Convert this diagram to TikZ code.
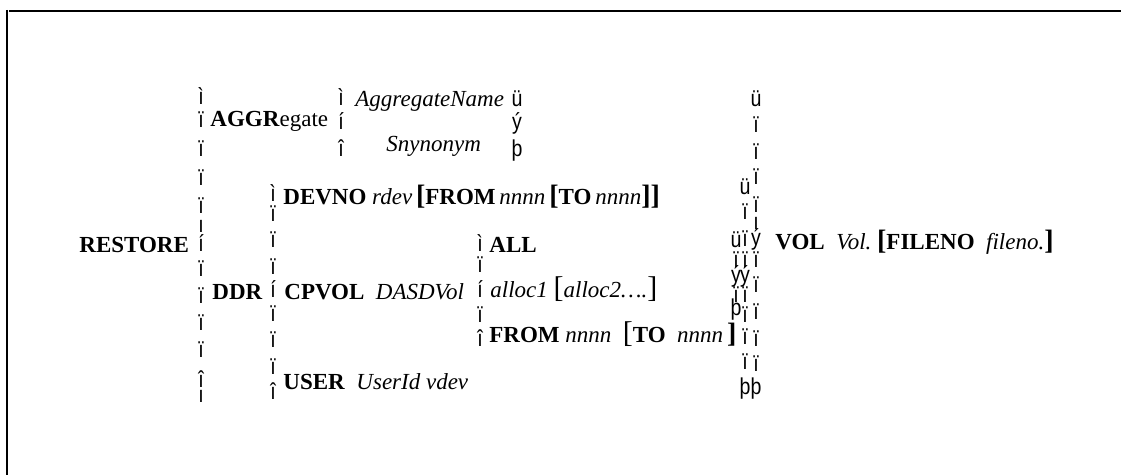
\documentclass[tikz,border=0pt]{standalone}
\usepackage{fontspec}
\setmainfont{Liberation Serif}
\newfontfamily\bracefont{Liberation Sans}
\newcommand{\sqbr}[1]{{\fontsize{14}{14}\selectfont\bfseries #1}}
\newcommand{\thinbr}[1]{{\fontsize{15}{15}\selectfont #1}}

\begin{document}
\begin{tikzpicture}[
    x=0.5pt, y=-0.5pt,
    font=\fontsize{11.5}{13}\selectfont,
    txt/.style={anchor=base west, inner sep=0pt},
    piece/.style={anchor=base, inner sep=0pt, xscale=0.85, transform shape, font=\fontsize{11.5}{13}\selectfont\bracefont},
    frame/.style={line width=1pt}
  ]
    \useasboundingbox (0,0) rectangle (1121,475);
    \draw[frame] (9,11) -- (1121,11);
    \draw[frame] (7,10) -- (7,475);

    \node[txt] (restore) at (79,253) {\textbf{RESTORE}};
    \node[txt] (aggr) at (210,127) {\textbf{AGGR}egate};
    \node[txt] (aggname) at (355,107) {\textit{AggregateName}};
    \node[txt] (synonym) at (386,152) {\textit{Snynonym}};
    \node[txt] (ddr) at (212,300) {\textbf{DDR}};
    \node[txt] (devno) at (283,205) {\textbf{DEVNO}\ \textit{rdev}\,\sqbr{[}\textbf{FROM}\,\textit{nnnn}\,\sqbr{[}\textbf{TO}\,\textit{nnnn}\sqbr{]]}};
    \node[txt] (cpvol) at (284,300) {\textbf{CPVOL}\ \ \textit{DASDVol}};
    \node[txt] (user) at (283,390) {\textbf{USER}\ \ \textit{UserId vdev}};
    \node[txt] (all) at (489,253) {\textbf{ALL}};
    \node[txt] (alloc) at (490,298) {\textit{alloc1}\ \thinbr{[}\textit{alloc2….}\thinbr{]}};
    \node[txt] (from) at (489,343) {\textbf{FROM}\ \textit{nnnn}\ \ \thinbr{[}\textbf{TO}\ \ \textit{nnnn}\,\sqbr{]}};
    \node[txt] (vol) at (775,250) {\textbf{VOL}\ \ \textit{Vol.}\ \sqbr{[}\textbf{FILENO}\ \ \textit{fileno.}\sqbr{]}};

    % brace pieces, one column each
    \foreach \g/\y [count=\i] in {ì/105, ï/128, ï/157, ï/186, ï/214, ı/233, í/252, ï/277, ï/304, ï/331, ï/358, î/388, ı/403}
      \node[piece] (left-\i) at (201,\y) {\g};
    \foreach \g/\y [count=\i] in {ì/106, í/130, î/157}
      \node[piece] (aggl-\i) at (341,\y) {\g};
    \foreach \g/\y [count=\i] in {ü/107, ý/130, þ/157}
      \node[piece] (aggr-\i) at (517,\y) {\g};
    \foreach \g/\y [count=\i] in {ì/202, ï/222, ï/248, ï/275, í/298, ï/322, ï/348, ï/375, î/400}
      \node[piece] (ddrl-\i) at (273,\y) {\g};
    \foreach \g/\y [count=\i] in {ì/252, ï/273, í/298, ï/323, î/347}
      \node[piece] (cpl-\i) at (480,\y) {\g};
    \foreach \g/\y [count=\i] in {ü/248, ï/268, ý/283, ï/303, þ/316}
      \node[piece] (cpr-\i) at (736,\y) {\g};
    \foreach \g/\y [count=\i] in {ü/195, ï/220, ï/247, ï/268, ý/283, ï/303, ï/323, ï/345, ï/370, þ/395}
      \node[piece] (ddrr-\i) at (745,\y) {\g};
    \foreach \g/\y [count=\i] in {ü/107, ï/133, ï/160, ï/185, ï/213, ı/230, ý/246, ï/268, ï/293, ï/320, ï/347, ï/372, þ/395}
      \node[piece] (right-\i) at (756,\y) {\g};
  \end{tikzpicture}
\end{document}
